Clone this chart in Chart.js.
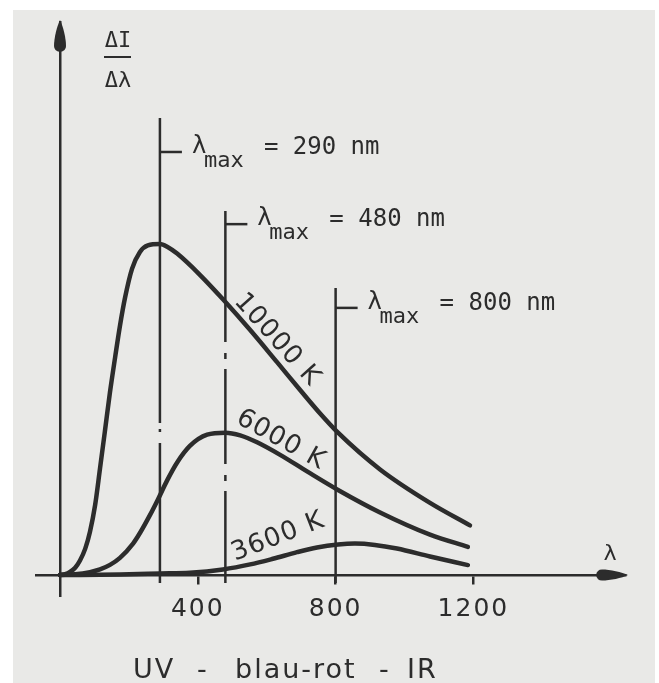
<!DOCTYPE html>
<html><head><meta charset="utf-8">
<script src="https://cdn.jsdelivr.net/npm/chart.js@4.4.1/dist/chart.umd.min.js"></script>
<style>html,body{margin:0;padding:0;background:#fff;} canvas{display:block;}</style>
</head><body>
<canvas id="c" width="659" height="683"></canvas>
<script>
// ---- data (wavelength in nm, relative intensity: 10000 K peak = 100) ----
const xTickValues = [400, 800, 1200];
const temperatures = [10000, 6000, 3600];

const lambda10000 = [0, 15, 29, 44, 58, 73, 87, 102, 116, 131, 145, 160, 174, 189, 209, 232, 255, 290, 311, 340, 406, 473, 552, 630, 697, 755, 807, 929, 1074, 1190];
const value10000  = [0, 0.24, 0.92, 2.2, 4.4, 7.9, 13.1, 21.2, 32.1, 44.0, 55.2, 65.8, 75.3, 83.9, 92.5, 97.6, 99.6, 100, 99.2, 97.1, 90.7, 83.3, 74.0, 64.3, 55.9, 48.8, 43.0, 31.9, 21.8, 15.0];

const lambda6000 = [0, 44, 87, 116, 145, 174, 212, 232, 261, 285, 311, 340, 377, 427, 480, 523, 572, 639, 717, 807, 929, 1074, 1184];
const value6000  = [0, 0.2, 0.88, 1.7, 3.05, 5.17, 9.5, 12.7, 18.1, 23.0, 28.6, 34.0, 39.0, 42.4, 43.0, 42.2, 40.1, 36.3, 31.3, 25.7, 18.9, 12.2, 8.5];

const lambda3600 = [0, 174, 290, 377, 473, 552, 618, 688, 746, 807, 856, 914, 978, 1074, 1184];
const value3600  = [0, 0.15, 0.45, 0.69, 1.69, 3.2, 4.9, 6.9, 8.3, 9.2, 9.5, 9.1, 8.0, 5.6, 3.0];

// λmax marker lines
const lambdaMax   = [290, 480, 800];
const lineTopV    = [138.1, 110.0, 86.7];
const labelV      = [127.8, 106.0, 80.7];
const dashStartV  = [45.9, 70.4, null];
const lineBottomV = -2.4;

// curve label anchors (data coords)
const curveLabelLambda = [630, 641, 633];
const curveLabelValue  = [71, 40.8, 11.5];

// ---- styles ----
const INK = '#2c2c2c';
const BG = 'rgb(233,233,231)';
const X_MIN = -69.7, X_MAX = 1640, Y_MIN = -6.34, Y_MAX = 167.07;
const curveLabelAngle = [48, 29, -21];
const dashPatterns = [[140, 6, 3, 11], [95, 11, 6, 10]];

function pts(xs, ys) { return xs.map((x, i) => ({ x: x, y: ys[i] })); }

const datasets = [];
lambdaMax.forEach((lm, i) => {
  const split = dashStartV[i] === null ? lineBottomV : dashStartV[i];
  datasets.push({
    data: [{ x: lm, y: lineTopV[i] }, { x: lm, y: split }],
    borderColor: INK, borderWidth: 2.5, pointRadius: 0, tension: 0
  });
  if (dashStartV[i] !== null) {
    datasets.push({
      data: [{ x: lm, y: dashStartV[i] }, { x: lm, y: lineBottomV }],
      borderColor: INK, borderWidth: 2.5, pointRadius: 0, tension: 0,
      borderDash: dashPatterns[i], borderDashOffset: dashPatterns[i][0]
    });
  }
});
[[lambda10000, value10000], [lambda6000, value6000], [lambda3600, value3600]].forEach((c, i) => {
  datasets.push({
    label: temperatures[i] + ' K',
    data: pts(c[0], c[1]),
    borderColor: INK, borderWidth: 4.5, pointRadius: 0,
    cubicInterpolationMode: 'monotone', borderCapStyle: 'round', borderJoinStyle: 'round'
  });
});

const decor = {
  id: 'decor',
  beforeDraw(chart) {
    const ctx = chart.ctx;
    ctx.save();
    ctx.fillStyle = '#ffffff';
    ctx.fillRect(0, 0, chart.width, chart.height);
    ctx.fillStyle = BG;
    ctx.fillRect(13, 10, 642, 673);
    ctx.restore();
    ctx.letterSpacing = '2px';
  },
  afterDraw(chart) {
    const ctx = chart.ctx, ca = chart.chartArea, xs = chart.scales.x, ys = chart.scales.y;
    const x0 = xs.getPixelForValue(0), y0 = ys.getPixelForValue(0);
    ctx.save();
    ctx.fillStyle = INK; ctx.strokeStyle = INK;
    // y arrow head
    const t = ca.top - 2;
    ctx.beginPath();
    ctx.moveTo(x0, t);
    ctx.bezierCurveTo(x0 + 3, t + 6, x0 + 6, t + 18, x0 + 6, t + 26);
    ctx.quadraticCurveTo(x0 + 6, t + 31, x0, t + 32);
    ctx.quadraticCurveTo(x0 - 6, t + 31, x0 - 6, t + 26);
    ctx.bezierCurveTo(x0 - 6, t + 18, x0 - 3, t + 6, x0, t);
    ctx.fill();
    // x arrow head
    const r = ca.right + 3;
    ctx.beginPath();
    ctx.moveTo(r, y0);
    ctx.bezierCurveTo(r - 6, y0 - 3, r - 18, y0 - 5.5, r - 26, y0 - 5.5);
    ctx.quadraticCurveTo(r - 31, y0 - 5.5, r - 32, y0);
    ctx.quadraticCurveTo(r - 31, y0 + 5.5, r - 26, y0 + 5.5);
    ctx.bezierCurveTo(r - 18, y0 + 5.5, r - 6, y0 + 3, r, y0);
    ctx.fill();

    // λmax annotations
    ctx.lineWidth = 2.5;
    ctx.letterSpacing = '0px';
    ctx.textAlign = 'left'; ctx.textBaseline = 'alphabetic';
    lambdaMax.forEach((lm, i) => {
      const lx = xs.getPixelForValue(lm), ly = ys.getPixelForValue(labelV[i]);
      ctx.beginPath(); ctx.moveTo(lx, ly); ctx.lineTo(lx + 22, ly); ctx.stroke();
      ctx.font = '24px "DejaVu Sans Mono"'; ctx.fillText('λ', lx + 32, ly + 1);
      ctx.font = '22px "DejaVu Sans Mono"'; ctx.fillText('max', lx + 44, ly + 15);
      ctx.font = '24px "DejaVu Sans Mono"'; ctx.fillText('= ' + lm + ' nm', lx + 104, ly + 2);
    });

    // curve labels
    ctx.letterSpacing = '1px';
    temperatures.forEach((T, i) => {
      ctx.save();
      ctx.translate(xs.getPixelForValue(curveLabelLambda[i]), ys.getPixelForValue(curveLabelValue[i]));
      ctx.rotate(curveLabelAngle[i] * Math.PI / 180);
      ctx.font = '26px "DejaVu Sans"';
      ctx.textAlign = 'center'; ctx.textBaseline = 'middle';
      ctx.fillText(T + ' K', 0, 0);
      ctx.restore();
    });

    // y axis title  ΔI / Δλ
    ctx.letterSpacing = '0px';
    ctx.font = '22px "DejaVu Sans Mono"';
    ctx.textAlign = 'center'; ctx.textBaseline = 'alphabetic';
    const cx = x0 + 58;
    ctx.fillText('ΔI', cx, ca.top + 25);
    ctx.lineWidth = 2;
    ctx.beginPath(); ctx.moveTo(cx - 14, ca.top + 35); ctx.lineTo(cx + 13, ca.top + 35); ctx.stroke();
    ctx.fillText('Δλ', cx, ca.top + 65);
    // x axis title λ
    ctx.fillText('λ', ca.right - 15, y0 - 15);

    // caption
    ctx.letterSpacing = '2px';
    ctx.font = '27px "DejaVu Sans"';
    ctx.textAlign = 'left';
    [['UV', 133], ['-', 197], ['blau-rot', 235], ['-', 379], ['IR', 407]].forEach(p => ctx.fillText(p[0], p[1], 678));
    ctx.restore();
  }
};

new Chart(document.getElementById('c'), {
  type: 'line',
  data: { datasets: datasets },
  plugins: [decor],
  options: {
    responsive: false,
    animation: false,
    devicePixelRatio: 1,
    layout: { padding: { left: 36, right: 34, top: 22, bottom: 87 }, autoPadding: false },
    plugins: { legend: { display: false }, tooltip: { enabled: false }, title: { display: false } },
    scales: {
      x: {
        type: 'linear', min: X_MIN, max: X_MAX, position: { y: 0 },
        afterFit(s) { s.height = 0; },
        afterBuildTicks(s) { s.ticks = xTickValues.map(v => ({ value: v })); },
        grid: { drawOnChartArea: false, drawTicks: true, tickLength: 8, color: INK, lineWidth: 2.5 },
        border: { display: true, color: INK, width: 2.5 },
        ticks: { color: INK, font: { family: '"DejaVu Sans"', size: 25 }, padding: 11, maxRotation: 0, autoSkip: false, callback: v => String(v) }
      },
      y: {
        type: 'linear', min: Y_MIN, max: Y_MAX, position: { x: 0 },
        afterFit(s) { s.width = 0; },
        grid: { drawOnChartArea: false, drawTicks: false },
        border: { display: true, color: INK, width: 2.5 },
        ticks: { display: false }
      }
    }
  }
});
</script>
</body></html>
